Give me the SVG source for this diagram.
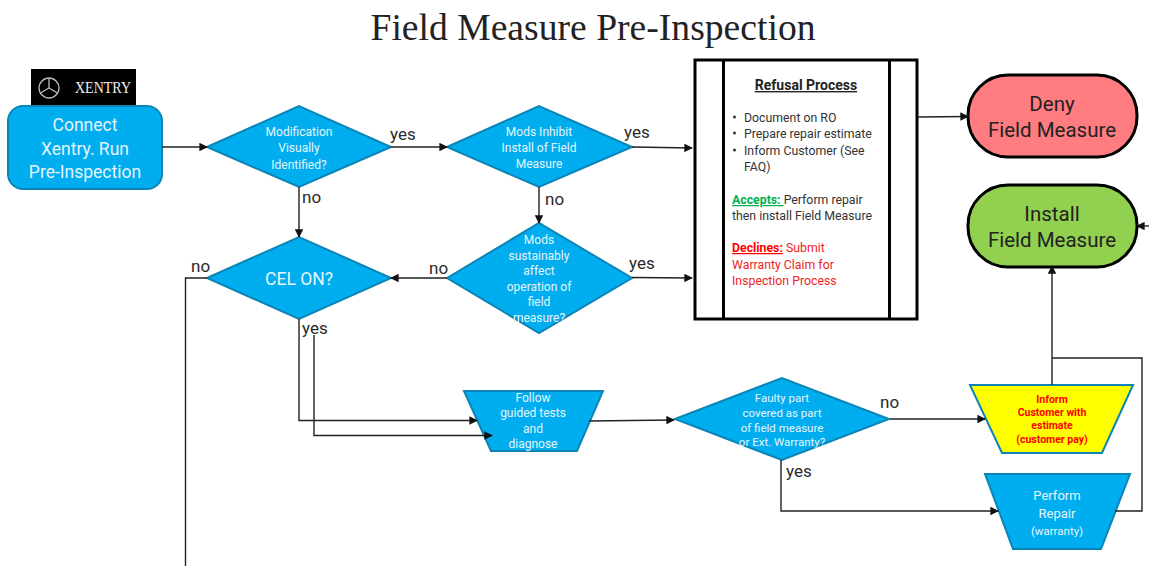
<svg xmlns="http://www.w3.org/2000/svg" width="1149" height="566" viewBox="0 0 1149 566">
<style>
text{font-family:Roboto,"Liberation Sans",sans-serif}
.s{fill:#00adef;stroke:#0b85b5;stroke-width:2}
.w{fill:#e4f5fd;text-anchor:middle}
.c{fill:none;stroke:#222;stroke-width:1.4}
.l{fill:#2a2a2a;font-size:17px}
.t{fill:#333;font-size:12.3px}
.r{fill:#f01c24;font-size:12.3px}
.e{fill:#222;text-anchor:middle;font-size:20.5px}
.k{fill:#f00;font-size:10.5px;font-weight:700;text-anchor:middle}
</style>
<defs><marker id="a" viewBox="0 0 10 10" refX="9" refY="5" markerWidth="8.500" markerHeight="8.500" markerUnits="userSpaceOnUse" orient="auto"><path d="M0 0L10 5L0 10z" fill="#111"/></marker></defs>
<rect width="1149" height="566" fill="#fff"/>
<text x="593" y="40" text-anchor="middle" style="font-family:'Liberation Serif',serif;font-size:37px" fill="#222" textLength="445" lengthAdjust="spacingAndGlyphs">Field Measure Pre-Inspection</text>
<g id="logo"><rect x="31" y="69" width="105" height="37" fill="#000"/><circle cx="49" cy="88" r="10" fill="none" stroke="#bbb" stroke-width="1.300"/><path d="M49 78V88L40.500 93M49 88L57.500 93" fill="none" stroke="#bbb" stroke-width="1.300"/><text x="103" y="93" text-anchor="middle" style="font-family:'Liberation Serif',serif;font-size:16px" fill="#eee" textLength="56" lengthAdjust="spacingAndGlyphs">XENTRY</text></g>
<g id="connect"><rect class="s" x="8" y="106" width="154" height="83" rx="15"/><g class="w" font-size="17.500px"><text x="85" y="131">Connect</text><text x="85" y="155">Xentry. Run</text><text x="85" y="178">Pre-Inspection</text></g></g>
<g id="modification"><path class="s" d="M207 147L299 106L391 147L299 187z"/><g class="w" font-size="12px"><text x="299" y="136">Modification</text><text x="299" y="152">Visually</text><text x="299" y="169">Identified?</text></g></g>
<g id="inhibit"><path class="s" d="M447 147L539 106L632 147L539 187z"/><g class="w" font-size="12px"><text x="539" y="136">Mods Inhibit</text><text x="539" y="152">Install of Field</text><text x="539" y="168">Measure</text></g></g>
<g id="cel"><path class="s" d="M207 278L299 237L391 278L299 319z"/><text class="w" x="299" y="285" font-size="17.500px">CEL ON?</text></g>
<g id="sustain"><path class="s" d="M447 278L539 223L632 278L539 333z"/><g class="w" font-size="12px"><text x="539" y="244">Mods</text><text x="539" y="260">sustainably</text><text x="539" y="275">affect</text><text x="539" y="291">operation of</text><text x="539" y="306">field</text><text x="539" y="322">measure?</text></g></g>
<g id="refusal"><rect x="695" y="60" width="222" height="259" fill="#fff" stroke="#000" stroke-width="3"/><path d="M723.500 60V319M889.500 60V319" stroke="#000" stroke-width="3"/>
<text x="806" y="90" text-anchor="middle" font-size="14px" font-weight="700" fill="#222" text-decoration="underline">Refusal Process</text>
<g class="t"><circle cx="734.500" cy="117" r="1.500" fill="#333"/><circle cx="734.500" cy="133" r="1.500" fill="#333"/><circle cx="734.500" cy="150" r="1.500" fill="#333"/>
<text x="744" y="122">Document on RO</text><text x="744" y="138">Prepare repair estimate</text><text x="744" y="155">Inform Customer (See</text><text x="744" y="171">FAQ)</text>
<text x="732" y="204"><tspan fill="#00b050" font-weight="700" text-decoration="underline">Accepts: </tspan>Perform repair</text><text x="732" y="220">then install Field Measure</text></g>
<g class="r"><text x="732" y="252"><tspan fill="#f00" font-weight="700" text-decoration="underline">Declines:</tspan> Submit</text><text x="732" y="269">Warranty Claim for</text><text x="732" y="285">Inspection Process</text></g></g>
<g id="deny"><rect x="968" y="75" width="169" height="82" rx="40" fill="#ff7c80" stroke="#000" stroke-width="3"/><text class="e" x="1052" y="111">Deny</text><text class="e" x="1052" y="137">Field Measure</text></g>
<g id="install"><rect x="968" y="185" width="169" height="82" rx="40" fill="#92d050" stroke="#000" stroke-width="3"/><text class="e" x="1052" y="221">Install</text><text class="e" x="1052" y="247">Field Measure</text></g>
<g id="guided"><path class="s" d="M464 391H603L577 451H491z"/><g class="w" font-size="12px"><text x="533" y="402">Follow</text><text x="533" y="417">guided tests</text><text x="533" y="433">and</text><text x="533" y="448">diagnose</text></g></g>
<g id="faulty"><path class="s" d="M675 419L782 378L889 419L782 460z"/><g class="w" font-size="11.500px"><text x="782" y="402">Faulty part</text><text x="782" y="417">covered as part</text><text x="782" y="432">of field measure</text><text x="782" y="446">or Ext. Warranty?</text></g></g>
<g id="inform"><path d="M970 385H1133L1102 453H1002z" fill="#ff0" stroke="#0b85b5" stroke-width="2"/><text class="k" x="1052" y="403">Inform</text><text class="k" x="1052" y="416">Customer with</text><text class="k" x="1052" y="429">estimate</text><text class="k" x="1052" y="443">(customer pay)</text></g>
<g id="repair"><path class="s" d="M985 474H1130L1101 549H1013z"/><g class="w"><text x="1057" y="500" font-size="13px">Perform</text><text x="1057" y="518" font-size="13px">Repair</text><text x="1057" y="535" font-size="11.500px">(warranty)</text></g></g>
<g id="labels"><text class="l" x="390" y="140">yes</text><text class="l" x="302" y="203">no</text><text class="l" x="624" y="138">yes</text><text class="l" x="545" y="205">no</text><text class="l" x="191" y="272">no</text><text class="l" x="429" y="274">no</text><text class="l" x="629" y="269">yes</text><text class="l" x="302" y="334">yes</text><text class="l" x="880" y="408">no</text><text class="l" x="786" y="477">yes</text></g>
<g id="connectors">
<path class="c" marker-end="url(#a)" d="M162 147H207"/>
<path class="c" marker-end="url(#a)" d="M391 147H447"/>
<path class="c" marker-end="url(#a)" d="M632 147L692 148"/>
<path class="c" marker-end="url(#a)" d="M299 187V237"/>
<path class="c" marker-end="url(#a)" d="M539 187V223"/>
<path class="c" marker-end="url(#a)" d="M447 278H391"/>
<path class="c" marker-end="url(#a)" d="M632 277.500L692 278"/>
<path class="c" d="M207 278H185.500V566"/>
<path class="c" marker-end="url(#a)" d="M299 319V420.500H477"/>
<path class="c" marker-end="url(#a)" d="M314 335V435.500H492"/>
<path class="c" marker-end="url(#a)" d="M589 421L674 420"/>
<path class="c" marker-end="url(#a)" d="M890 419H985"/>
<path class="c" marker-end="url(#a)" d="M781 460V511H998"/>
<path class="c" d="M1115 511H1142V358H1052"/>
<path class="c" marker-end="url(#a)" d="M1052 385V266"/>
<path class="c" marker-end="url(#a)" d="M918 117L968 116.500"/>
<path class="c" marker-end="url(#a)" d="M1149 226H1137"/>
</g>
</svg>
